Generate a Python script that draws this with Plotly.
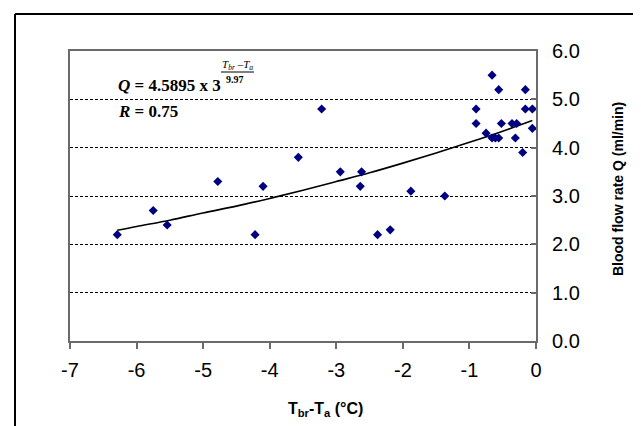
import plotly.graph_objects as go

# Data
dT = [-6.29, -5.75, -5.54, -4.78, -4.22, -4.10, -3.57, -3.22, -2.94, -2.62, -2.64,
      -2.38, -2.19, -1.88, -1.37, -0.90, -0.90, -0.75, -0.66, -0.66, -0.61, -0.56,
      -0.56, -0.52, -0.36, -0.29, -0.31, -0.20, -0.16, -0.16, -0.055, -0.055]
Q = [2.2, 2.7, 2.4, 3.3, 2.2, 3.2, 3.8, 4.8, 3.5, 3.5, 3.2,
     2.2, 2.3, 3.1, 3.0, 4.8, 4.5, 4.3, 5.5, 4.2, 4.2, 4.2,
     5.2, 4.5, 4.5, 4.5, 4.2, 3.9, 5.2, 4.8, 4.8, 4.4]

# Trend line (Q = 4.5895 x 3^(dT/9.97)) read at several points
trend_x = [-6.29, -6.0, -5.5, -5.0, -4.5, -4.0, -3.5, -3.0, -2.5, -2.0, -1.5, -1.0, -0.5, -0.055]
trend_y = [2.29, 2.37, 2.50, 2.65, 2.79, 2.95, 3.12, 3.30, 3.48, 3.68, 3.89, 4.11, 4.34, 4.56]

x_ticks = [-7, -6, -5, -4, -3, -2, -1, 0]
y_ticks = [0, 1, 2, 3, 4, 5, 6]
y_ticklabels = ["0.0", "1.0", "2.0", "3.0", "4.0", "5.0", "6.0"]

W, H = 641, 426
L, R_, T, B = 62, 528, 43, 333

def px(x):
    return (x - L) / (R_ - L)

def py(y):
    return (B - y) / (B - T)

fig = go.Figure()
fig.add_trace(go.Scatter(x=trend_x, y=trend_y, mode="lines", line_shape="spline",
                         line=dict(color="black", width=1.6), hoverinfo="skip"))
fig.add_trace(go.Scatter(x=dT, y=Q, mode="markers",
                         marker=dict(symbol="diamond", size=7, color="#000080",
                                     line=dict(width=0))))

fig.update_layout(
    width=W, height=H,
    margin=dict(l=L, r=W - R_, t=T, b=H - B),
    paper_bgcolor="white", plot_bgcolor="white",
    showlegend=False,
    font=dict(family="Liberation Sans, Arial", color="black"),
    xaxis=dict(range=[-7, 0], tickvals=x_ticks, ticktext=[str(v) for v in x_ticks],
               showgrid=False, zeroline=False,
               showline=True, linecolor="#6a6a6a", linewidth=2, mirror=True,
               ticks="outside", ticklen=6, tickwidth=1.5, tickcolor="#6a6a6a",
               ticklabelstandoff=4,
               tickfont=dict(size=20, family="Liberation Sans, Arial")),
    yaxis=dict(range=[0, 6], tickvals=y_ticks, ticktext=y_ticklabels, side="right",
               showgrid=True, gridcolor="black", gridwidth=1.3, griddash="3px,2px",
               zeroline=False,
               showline=True, linecolor="#6a6a6a", linewidth=2, mirror=True,
               ticks="inside", ticklen=5, tickwidth=1.5, tickcolor="#6a6a6a",
               ticklabelstandoff=10,
               tickfont=dict(size=20, family="Liberation Sans, Arial")),
)

# axis titles
fig.add_annotation(xref="paper", yref="paper", x=px(317), y=py(401),
                   xanchor="center", yanchor="middle", showarrow=False,
                   text="<b>T<sub>br</sub>-T<sub>a</sub> (°C)</b>",
                   font=dict(size=16, family="Liberation Sans, Arial", color="black"))
fig.add_annotation(xref="paper", yref="paper", x=px(610), y=py(181),
                   xanchor="center", yanchor="middle", showarrow=False, textangle=-90,
                   text="<b>Blood flow rate Q (ml/min)</b>",
                   font=dict(size=14, family="Liberation Sans, Arial", color="black"))

# outer frame
fig.add_shape(type="line", xref="paper", yref="paper", x0=px(7), x1=px(660),
              y0=py(6), y1=py(6), line=dict(color="black", width=2))
fig.add_shape(type="line", xref="paper", yref="paper", x0=px(7), x1=px(7),
              y0=py(6), y1=py(424), line=dict(color="black", width=2))
fig.add_shape(type="line", xref="paper", yref="paper", x0=px(0), x1=px(660),
              y0=py(425), y1=py(425), line=dict(color="#c8c8c8", width=2))

serif = "Liberation Serif, Times New Roman"
fig.add_annotation(xref="paper", yref="paper", x=px(108), y=py(77),
                   xanchor="left", yanchor="middle", showarrow=False,
                   text="<b><i>Q</i> = 4.5895 x 3</b>",
                   font=dict(family=serif, size=17, color="black"))
fig.add_annotation(xref="paper", yref="paper", x=px(229), y=py(57),
                   xanchor="center", yanchor="middle", showarrow=False,
                   text="<i>T<sub>br</sub> –T<sub>a</sub></i>",
                   font=dict(family=serif, size=11, color="black"))
fig.add_shape(type="line", xref="paper", yref="paper", x0=px(213), x1=px(246),
              y0=py(64), y1=py(64), line=dict(color="black", width=1))
fig.add_annotation(xref="paper", yref="paper", x=px(227), y=py(71),
                   xanchor="center", yanchor="middle", showarrow=False,
                   text="<b>9.97</b>",
                   font=dict(family=serif, size=10, color="black"))
fig.add_annotation(xref="paper", yref="paper", x=px(108), y=py(103),
                   xanchor="left", yanchor="middle", showarrow=False,
                   text="<b><i>R</i> = 0.75</b>",
                   font=dict(family=serif, size=17, color="black"))

fig.write_html("out.html")
